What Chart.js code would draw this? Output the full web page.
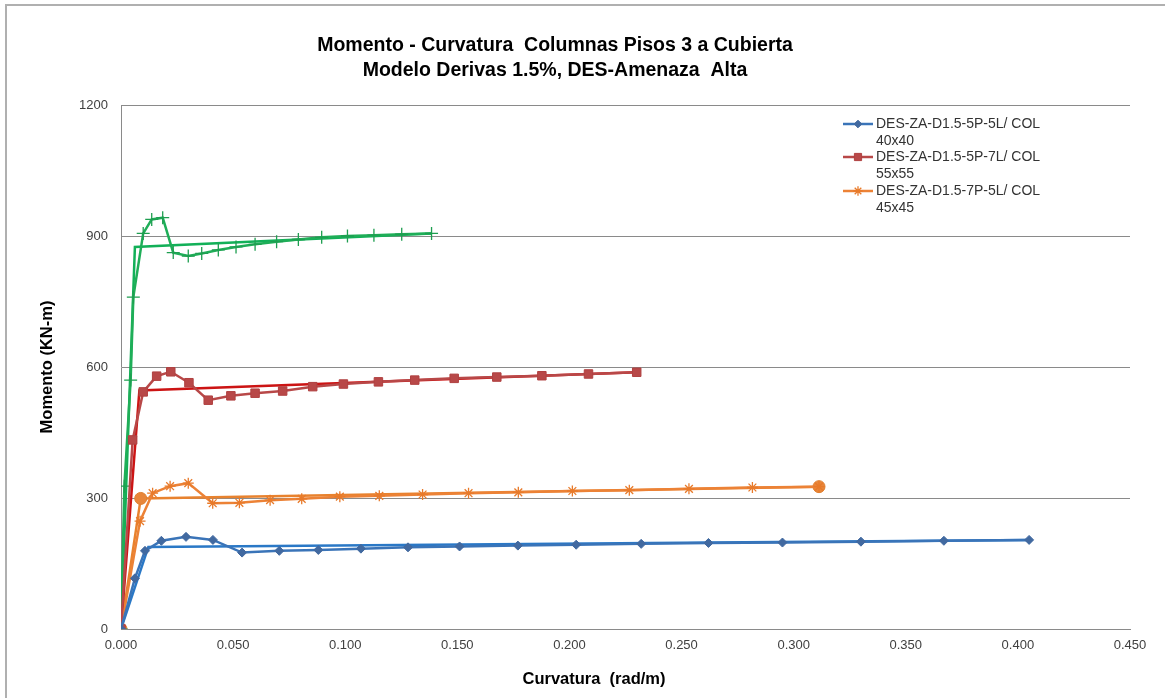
<!DOCTYPE html>
<html>
<head>
<meta charset="utf-8">
<script src="https://cdn.jsdelivr.net/npm/chart.js@4/dist/chart.umd.min.js"></script>
<style>
  html, body { margin: 0; padding: 0; background: #ffffff; }
  #c { display: block; }
</style>
</head>
<body>
<canvas id="c" width="1165" height="698"></canvas>
<script>
// Curvatura (rad/m) / Momento (KN-m) pairs for each column section
const col40Curv = [0, 0.0062, 0.0107, 0.018, 0.029, 0.041, 0.054, 0.0706, 0.088, 0.107, 0.128, 0.151, 0.177, 0.203, 0.232, 0.262, 0.295, 0.330, 0.367, 0.405];
const col40Mom  = [0, 116, 179, 202, 211, 204, 175, 179, 181, 184, 187, 189, 191, 193, 195, 197, 198, 200, 202, 204];
const col40BiCurv = [0, 0.0122, 0.405];
const col40BiMom  = [0, 188, 204];

const col55Curv = [0, 0.0052, 0.0099, 0.0159, 0.0222, 0.0303, 0.0389, 0.049, 0.0598, 0.0721, 0.0855, 0.0992, 0.1148, 0.131, 0.1486, 0.1676, 0.1877, 0.2085, 0.230];
const col55Mom  = [0, 433, 543, 579, 589, 564, 524, 534, 540, 545, 555, 561, 566, 570, 574, 577, 580, 584, 588];
const col55BiCurv = [0, 0.0082, 0.230];
const col55BiMom  = [0, 546, 588];

const col45Curv = [0, 0.0085, 0.0141, 0.0219, 0.030, 0.0409, 0.0528, 0.0665, 0.0806, 0.0976, 0.1152, 0.1345, 0.155, 0.1772, 0.2013, 0.2267, 0.2533, 0.2816, 0.3113];
const col45Mom  = [0, 247, 311, 327, 334, 288, 289, 295, 298, 303, 305, 308, 311, 313, 316, 318, 321, 324, 326];
const col45BiCurv = [0, 0.0088, 0.3113];
const col45BiMom  = [0, 299, 326];

const colGCurv = [0, 0.0015, 0.0043, 0.0055, 0.0099, 0.0137, 0.0186, 0.0233, 0.030, 0.036, 0.0434, 0.0513, 0.0598, 0.0694, 0.0791, 0.0895, 0.101, 0.1128, 0.1252, 0.1385];
const colGMom  = [0, 327, 570, 760, 906, 938, 942, 862, 854, 860, 868, 875, 881, 887, 892, 897, 900, 902, 904, 906];
const colGBiCurv = [0, 0.0062, 0.1385];
const colGBiMom  = [0, 875, 906];

const seriesNames = ["DES-ZA-D1.5-5P-5L/ COL", "DES-ZA-D1.5-5P-7L/ COL", "DES-ZA-D1.5-7P-5L/ COL"];
const seriesSizes = ["40x40", "55x55", "45x45"];

const titleLines = ["Momento - Curvatura  Columnas Pisos 3 a Cubierta", "Modelo Derivas 1.5%, DES-Amenaza  Alta"];
const xTitle = "Curvatura  (rad/m)";
const yTitle = "Momento (KN-m)";

const xTicks = { min: 0, max: 0.45, step: 0.05 };
const yTicks = { min: 0, max: 1200, step: 300 };

function pts(xs, ys) { return xs.map((x, i) => ({ x: x, y: ys[i] })); }

const FONT = "'Liberation Sans', Arial, sans-serif";

const datasets = [
  { label: seriesNames[0], data: pts(col40Curv, col40Mom), showLine: true,
    borderColor: '#3a74b8', backgroundColor: '#4169a0', borderWidth: 2.5,
    pointStyle: 'rectRot', pointRadius: 4.5, pointBorderWidth: 1, pointBorderColor: '#4169a0', order: 1, legend: true },
  { label: 'bi40', data: pts(col40BiCurv, col40BiMom), showLine: true,
    borderColor: '#2a78c6', borderWidth: 2.5, pointRadius: 0, order: 2 },
  { label: seriesNames[1], data: pts(col55Curv, col55Mom), showLine: true,
    borderColor: '#b84848', backgroundColor: '#b84848', borderWidth: 2.5,
    pointStyle: 'rect', pointRadius: 6, pointBorderWidth: 1, pointBorderColor: '#b04040', order: 1, legend: true },
  { label: 'bi55', data: pts(col55BiCurv, col55BiMom), showLine: true,
    borderColor: '#cc1414', borderWidth: 2.5, pointRadius: 0, order: 2 },
  { label: seriesNames[2], data: pts(col45Curv, col45Mom), showLine: true,
    borderColor: '#ec8236', backgroundColor: '#ec8236', borderWidth: 2.5,
    pointStyle: 'star', pointRadius: 5.5, pointBorderWidth: 1.3, pointBorderColor: '#e87a2a', order: 1, legend: true },
  { label: 'bi45', data: pts(col45BiCurv, col45BiMom), showLine: true,
    borderColor: '#e8822e', backgroundColor: '#e8863a', borderWidth: 2.5,
    pointStyle: 'circle', pointRadius: 6, pointBorderWidth: 1, pointBorderColor: '#e08030', order: 2 },
  { label: 'colG', data: pts(colGCurv, colGMom), showLine: true,
    borderColor: '#1fae58', backgroundColor: '#1fae58', borderWidth: 2.5,
    pointStyle: 'cross', pointRadius: 6.5, pointBorderWidth: 1.3, pointBorderColor: '#1e9e50', order: 1 },
  { label: 'biG', data: pts(colGBiCurv, colGBiMom), showLine: true,
    borderColor: '#12b058', borderWidth: 2.5, pointRadius: 0, order: 2 }
];

// Frame, titles, axis titles and the two-line legend
const decorations = {
  id: 'decorations',
  beforeDraw(chart) {
    const ctx = chart.ctx;
    ctx.save();
    ctx.fillStyle = '#ffffff';
    ctx.fillRect(0, 0, chart.width, chart.height);
    ctx.strokeStyle = '#b0b0b0';
    ctx.lineWidth = 2;
    ctx.strokeRect(6, 5, chart.width + 20, chart.height + 20);
    ctx.restore();
  },
  afterDraw(chart) {
    const ctx = chart.ctx;
    ctx.save();
    ctx.fillStyle = '#000000';
    ctx.textAlign = 'center';
    ctx.textBaseline = 'middle';
    ctx.font = 'bold 19.5px ' + FONT;
    ctx.fillText(titleLines[0], 555, 46);
    ctx.fillText(titleLines[1], 555, 71);

    ctx.font = 'bold 16.5px ' + FONT;
    ctx.fillText(xTitle, 594, 679);
    ctx.save();
    ctx.translate(47, 367);
    ctx.rotate(-Math.PI / 2);
    ctx.fillText(yTitle, 0, 0);
    ctx.restore();

    // legend
    const legendSets = chart.data.datasets.filter(d => d.legend);
    const rowY = [124, 157, 191];
    legendSets.forEach((ds, i) => {
      const y = rowY[i];
      ctx.strokeStyle = ds.borderColor;
      ctx.lineWidth = 2.5;
      ctx.beginPath();
      ctx.moveTo(843, y);
      ctx.lineTo(873, y);
      ctx.stroke();
      ctx.fillStyle = ds.backgroundColor;
      ctx.strokeStyle = ds.pointBorderColor;
      ctx.lineWidth = ds.pointBorderWidth;
      Chart.helpers.drawPoint(ctx, {
        pointStyle: ds.pointStyle, radius: ds.pointRadius * 0.85, rotation: 0,
        borderWidth: ds.pointBorderWidth
      }, 858, y);
      ctx.font = '14px ' + FONT;
      ctx.textAlign = 'left';
      ctx.fillStyle = '#333333';
      ctx.fillText(seriesNames[i], 876, y);
      ctx.fillText(seriesSizes[i], 876, y + 17);
    });
    ctx.restore();
  }
};

const tickFont = { family: FONT, size: 13 };

new Chart(document.getElementById('c').getContext('2d'), {
  type: 'scatter',
  data: { datasets: datasets },
  options: {
    responsive: false,
    animation: false,
    devicePixelRatio: 1,
    layout: { padding: { left: 0, right: 35, top: 105, bottom: 0 } },
    plugins: { legend: { display: false }, title: { display: false }, tooltip: { enabled: false } },
    elements: { line: { tension: 0 } },
    scales: {
      x: {
        type: 'linear', min: xTicks.min, max: xTicks.max,
        ticks: { stepSize: xTicks.step, color: '#404040', font: tickFont, padding: 9, maxRotation: 0,
                 callback: v => Number(v).toFixed(3) },
        grid: { display: false, drawTicks: false },
        border: { display: true, color: '#8a8a8a', width: 1 },
        afterFit(s) { s.height = 69; }
      },
      y: {
        type: 'linear', min: yTicks.min, max: yTicks.max,
        ticks: { stepSize: yTicks.step, color: '#404040', font: tickFont, padding: 13,
                 callback: v => String(Math.round(v)) },
        grid: { color: '#8a8a8a', lineWidth: 1, drawTicks: false },
        border: { display: true, color: '#8a8a8a', width: 1 },
        afterFit(s) { s.width = 121; }
      }
    }
  },
  plugins: [decorations]
});
</script>
</body>
</html>
